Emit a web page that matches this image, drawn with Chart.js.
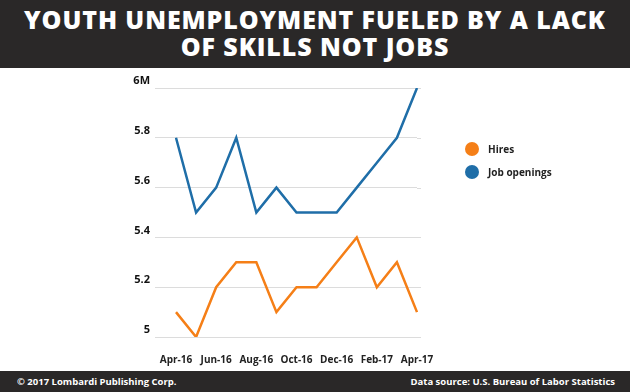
<!DOCTYPE html>
<html>
<head>
<meta charset="utf-8">
<script src="https://cdn.jsdelivr.net/npm/chart.js@4.4.1/dist/chart.umd.min.js"></script>
<style>
  body { margin: 0; width: 630px; height: 392px; overflow: hidden; background: #fff; font-family: "Open Sans", sans-serif; position: relative; }
  #title { position: absolute; left: 0; top: 0; width: 630px; height: 68px; background: #2a2828; color: #fff;
    font-weight: 800; font-size: 25px; line-height: 27px; text-align: center; padding-top: 6px; box-sizing: border-box; letter-spacing: 0.9px; }
  #wrap { position: absolute; left: 0; top: 68px; width: 630px; height: 304px; }
  #footer { position: absolute; left: 0; top: 371px; width: 630px; height: 21px; background: #2a2828; color: #fff;
    font-weight: 700; font-size: 9.5px; line-height: 21px; }
  #footer .l { position: absolute; left: 17px; }
  #footer .r { position: absolute; right: 15px; }
  .leg { position: absolute; left: 465px; font-weight: 700; font-size: 10px; color: #222; line-height: 14px; }
  .leg span { display: inline-block; width: 14px; height: 14px; border-radius: 50%; vertical-align: top; margin-right: 9px; }
</style>
</head>
<body>
<div id="title">YOUTH UNEMPLOYMENT FUELED BY A LACK<br>OF SKILLS NOT JOBS</div>
<div id="wrap"><canvas id="chart"></canvas></div>
<div class="leg" style="top:142px"><span style="background:#f57f17"></span>Hires</div>
<div class="leg" style="top:165px"><span style="background:#1f6ea8"></span>Job openings</div>
<div id="footer"><span class="l">© 2017 Lombardi Publishing Corp.</span><span class="r">Data source: U.S. Bureau of Labor Statistics</span></div>
<script>
const months = ['Apr-16', 'May-16', 'Jun-16', 'Jul-16', 'Aug-16', 'Sep-16', 'Oct-16', 'Nov-16', 'Dec-16', 'Jan-17', 'Feb-17', 'Mar-17', 'Apr-17'];
const hires = [5.1, 5.0, 5.2, 5.3, 5.3, 5.1, 5.2, 5.2, 5.3, 5.4, 5.2, 5.3, 5.1];
const jobOpenings = [5.8, 5.5, 5.6, 5.8, 5.5, 5.6, 5.5, 5.5, 5.5, 5.6, 5.7, 5.8, 6.0];
const yTicks = [5, 5.2, 5.4, 5.6, 5.8, 6];

// gridlines in the original run a bit past the last point
const gridExtend = {
  id: 'gridExtend',
  beforeDatasetsDraw(chart) {
    const { ctx, chartArea, scales } = chart;
    ctx.save();
    ctx.strokeStyle = '#dcdcdc';
    ctx.lineWidth = 1;
    scales.y.ticks.forEach(t => {
      const y = Math.round(scales.y.getPixelForValue(t.value)) + 0.5;
      ctx.beginPath();
      ctx.moveTo(chartArea.right, y);
      ctx.lineTo(chartArea.right + 4, y);
      ctx.stroke();
    });
    ctx.restore();
  }
};

const ctx = document.getElementById('chart').getContext('2d');
new Chart(ctx, {
  type: 'line',
  data: {
    labels: months,
    datasets: [
      { label: 'Hires', data: hires, borderColor: '#f57f17', borderWidth: 2.5, pointRadius: 0, tension: 0 },
      { label: 'Job openings', data: jobOpenings, borderColor: '#1f6ea8', borderWidth: 2.5, pointRadius: 0, tension: 0 }
    ]
  },
  options: {
    responsive: true,
    maintainAspectRatio: false,
    animation: false,
    layout: { padding: { top: 20, right: 213, bottom: 0, left: 0 } },
    plugins: { legend: { display: false }, tooltip: { enabled: false } },
    scales: {
      x: {
        grid: { display: false },
        border: { display: false },
        afterFit: s => { s.height = 35; },
        ticks: {
          autoSkip: false, maxRotation: 0, padding: 9, color: '#222',
          font: { family: 'Open Sans', weight: 'bold', size: 10 },
          callback: (v, i) => i % 2 === 0 ? months[i] : ''
        }
      },
      y: {
        min: 5, max: 6,
        afterFit: s => { s.width = 176; },
        afterBuildTicks: s => { s.ticks = yTicks.map(v => ({ value: v })); },
        border: { display: false },
        grid: { color: '#dcdcdc', lineWidth: 1, drawTicks: true, tickLength: 21 },
        ticks: {
          padding: 5, labelOffset: -7, color: '#111',
          font: { family: 'Open Sans', weight: 'bold', size: 11 },
          callback: v => v === 6 ? '6M' : String(Number(v.toFixed(1)))
        }
      }
    }
  },
  plugins: [gridExtend]
});
</script>
</body>
</html>
